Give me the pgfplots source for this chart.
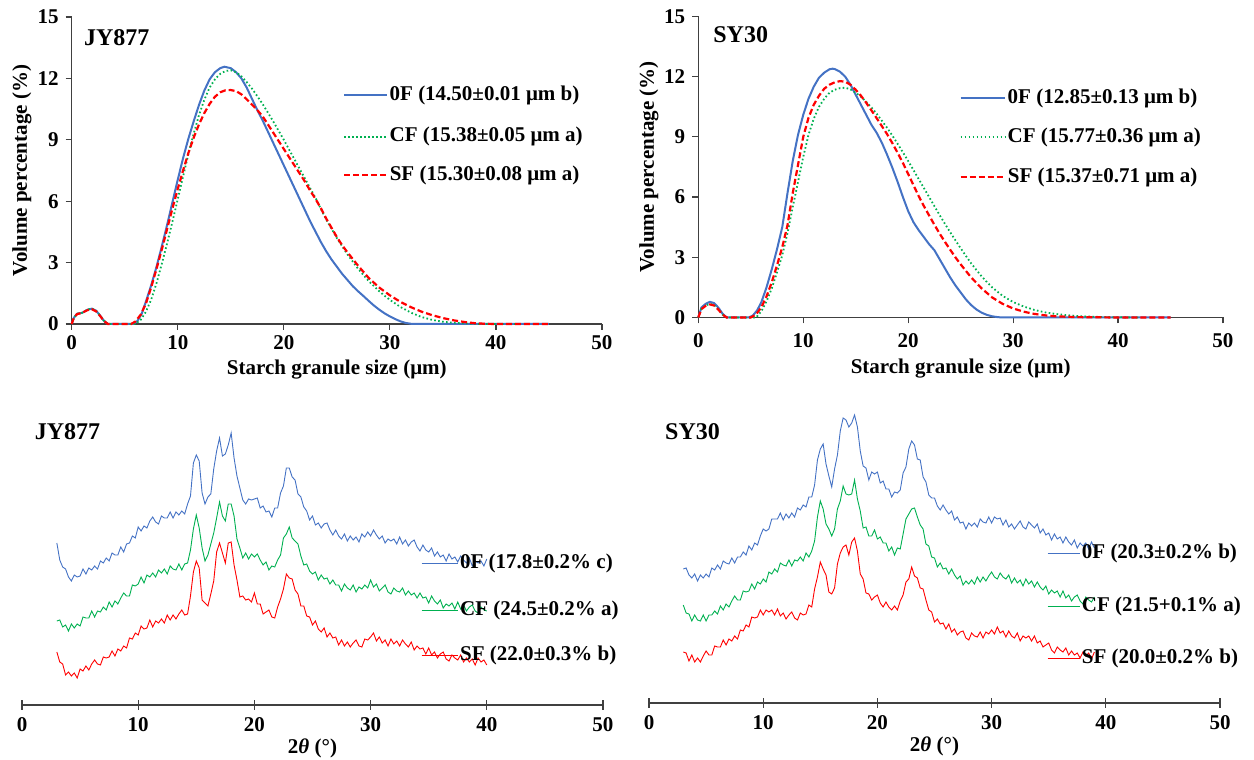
\documentclass[border=0pt]{standalone}
\usepackage{fontspec}
\setmainfont{Liberation Serif}
\usepackage{pgfplots}
\usepackage{pgfplotstable}
\pgfplotsset{compat=1.18}

\definecolor{ofblue}{HTML}{4472C4}
\definecolor{cfgreen}{HTML}{00B050}
\definecolor{sfred}{HTML}{FF0000}

% XRD patterns, heights in px above the axis line
\pgfplotstableread{
x b g r
3.00 162 84 53
3.25 145 85 43
3.50 138 78 41
3.75 136 80 30
4.00 128 74 33
4.25 124 81 29
4.50 130 77 32
4.75 128 81 27
5.00 129 79 36
5.25 136 88 34
5.50 131 87 39
5.75 137 87 35
6.00 135 94 41
6.25 139 88 45
6.50 136 94 41
6.75 144 93 40
7.00 142 98 48
7.25 147 95 47
7.50 144 103 48
7.75 152 98 54
8.00 150 104 49
8.25 150 101 56
8.50 158 107 54
8.75 153 112 59
9.00 161 109 57
9.25 162 109 67
9.50 169 120 66
9.75 167 119 72
10.00 178 121 70
10.25 174 128 79
10.50 179 122 76
10.75 177 130 77
11.00 184 128 85
11.25 188 132 78
11.50 183 128 84
11.75 181 135 82
12.00 189 132 86
12.25 187 136 82
12.50 187 131 90
12.75 193 139 85
13.00 187 136 90
13.25 193 135 86
13.50 190 141 91
13.75 194 135 95
14.00 191 141 90
14.25 201 142 91
14.50 209 155 109
14.75 242 176 133
15.00 250 190 144
15.25 244 177 137
15.50 212 157 105
15.75 201 144 102
16.00 208 150 99
16.25 211 161 111
16.50 236 172 124
16.75 254 187 153
17.00 267 203 162
17.25 249 189 152
17.50 251 184 142
17.75 260 201 162
18.00 272 201 163
18.25 247 189 140
18.50 229 166 125
18.75 217 157 108
19.00 205 147 109
19.25 201 152 105
19.50 206 146 106
19.75 205 151 103
20.00 206 148 112
20.25 207 151 101
20.50 197 145 101
20.75 199 140 91
21.00 193 143 93
21.25 194 135 95
21.50 188 139 88
21.75 197 138 87
22.00 197 145 98
22.25 212 150 106
22.50 219 167 116
22.75 237 171 131
23.00 237 178 127
23.25 228 167 126
23.50 225 164 115
23.75 211 161 111
24.00 208 149 99
24.25 198 140 99
24.50 194 141 89
24.75 185 134 88
25.00 189 131 80
25.25 180 133 84
25.50 182 125 76
25.75 177 130 73
26.00 181 126 77
26.25 182 127 68
26.50 175 121 72
26.75 170 125 67
27.00 175 120 68
27.25 169 120 60
27.50 166 114 65
27.75 171 121 59
28.00 164 117 63
28.25 169 115 58
28.50 165 120 62
28.75 168 113 65
29.00 163 118 59
29.25 171 116 58
29.50 168 120 66
29.75 173 117 65
30.00 169 125 68
30.25 175 118 72
30.50 170 121 64
30.75 166 114 68
31.00 169 117 62
31.25 162 120 65
31.50 166 113 59
31.75 164 111 66
32.00 166 117 61
32.25 161 114 64
32.50 168 113 59
32.75 161 117 65
33.00 165 110 61
33.25 159 114 58
33.50 163 110 63
33.75 165 112 55
34.00 158 107 59
34.25 154 112 56
34.50 160 107 57
34.75 155 108 51
35.00 153 102 57
35.25 157 109 50
35.50 149 104 53
35.75 153 101 47
36.00 148 105 51
36.25 150 97 53
36.50 144 101 46
36.75 151 99 44
37.00 146 102 50
37.25 148 96 47
37.50 143 103 45
37.75 149 96 50
38.00 145 100 43
38.25 142 94 47
38.50 147 98 43
38.75 139 100 46
39.00 144 94 40
39.25 142 92 47
39.50 144 98 43
39.75 139 95 45
40.00 146 94 40
}\xrdjy

\pgfplotstableread{
x b g r
3.00 134 98 51
3.25 135 90 50
3.50 128 89 42
3.75 125 82 48
4.00 129 88 41
4.25 122 83 45
4.50 128 82 41
4.75 125 88 47
5.00 129 82 52
5.25 126 88 48
5.50 135 88 48
5.75 133 92 57
6.00 138 89 56
6.25 134 97 56
6.50 142 93 63
6.75 140 99 58
7.00 139 96 64
7.25 145 102 62
7.50 140 107 67
7.75 146 103 64
8.00 146 103 73
8.25 151 112 72
8.50 148 111 78
8.75 157 112 76
9.00 153 119 86
9.25 160 114 85
9.50 158 121 86
9.75 167 119 93
10.00 174 124 88
10.25 172 121 93
10.50 174 131 91
10.75 184 129 93
11.00 184 134 88
11.25 184 131 94
11.50 190 140 87
11.75 183 138 90
12.00 189 137 84
12.25 185 143 88
12.50 190 137 91
12.75 186 143 85
13.00 195 142 83
13.25 193 146 90
13.50 198 142 88
13.75 196 150 89
14.00 206 146 98
14.25 206 152 96
14.50 218 162 114
14.75 243 186 126
15.00 254 202 141
15.25 259 194 134
15.50 239 179 128
15.75 227 174 111
16.00 216 167 109
16.25 234 174 115
16.50 248 194 139
16.75 272 202 150
17.00 285 217 156
17.25 283 209 158
17.50 276 208 148
17.75 280 209 161
18.00 288 223 165
18.25 276 204 152
18.50 252 192 129
18.75 237 175 124
19.00 235 176 110
19.25 223 167 109
19.50 231 167 103
19.75 229 173 106
20.00 231 164 108
20.25 220 166 100
20.50 222 160 96
20.75 214 160 101
21.00 214 152 96
21.25 206 156 93
21.50 211 148 97
21.75 210 155 93
22.00 213 154 102
22.25 230 169 108
22.50 236 184 121
22.75 254 189 124
23.00 262 194 136
23.25 258 195 127
23.50 244 186 125
23.75 243 178 115
24.00 226 174 114
24.25 221 159 103
24.50 208 157 93
24.75 205 146 91
25.00 205 145 81
25.25 197 136 84
25.50 193 140 79
25.75 198 134 80
26.00 193 135 74
26.25 189 129 79
26.50 192 134 71
26.75 183 128 74
27.00 186 124 68
27.25 180 127 71
27.50 181 118 72
27.75 174 122 65
28.00 180 119 63
28.25 177 123 70
28.50 180 119 67
28.75 176 126 66
29.00 184 121 71
29.25 181 126 65
29.50 180 122 71
29.75 186 127 69
30.00 180 131 73
30.25 186 126 69
30.50 184 124 76
30.75 185 130 70
31.00 178 126 72
31.25 183 124 66
31.50 176 128 72
31.75 179 120 67
32.00 174 125 65
32.25 178 120 70
32.50 182 123 62
32.75 176 117 67
33.00 174 124 65
33.25 181 119 67
33.50 178 122 62
33.75 175 116 67
34.00 179 121 60
34.25 170 116 62
34.50 174 113 56
34.75 168 117 58
35.00 170 109 60
35.25 163 113 53
35.50 169 110 50
35.75 164 112 56
36.00 166 106 53
36.25 160 112 51
36.50 166 105 55
36.75 161 108 48
37.00 158 102 52
37.25 163 106 48
37.50 155 108 50
37.75 160 102 45
38.00 157 99 51
38.25 160 106 47
38.50 154 103 50
38.75 161 101 44
39.00 155 106 51
}\xrdsy

\tikzset{
  psdblue/.style={ofblue, line width=1pt},
  psdgreen/.style={cfgreen, line width=0.9pt, dash pattern=on 0.8pt off 1.2pt},
  psdred/.style={sfred, line width=1.1pt, dash pattern=on 3pt off 1.5pt},
}

\pgfplotsset{
  psd/.style={
    scale only axis, anchor=south west,
    xmin=0, xmax=50, ymin=0, ymax=15,
    xtick={0,10,20,30,40,50}, ytick={0,3,6,9,12,15},
    axis lines=left, axis line style={-, line width=0.7pt, black!75},
    tick style={line width=0.6pt, black!75}, tick align=outside, major tick length=3pt,
    /pgf/number format/assume math mode=true,
    xlabel={Starch granule size (μm)}, ylabel={Volume percentage (\%)},
    ylabel style={at={(axis description cs:-0.094,0.5)}, anchor=center},
    clip=false,
  },
  xrd/.style={
    scale only axis, anchor=south west,
    xmin=0, xmax=50, ymin=0, ymax=290,
    xtick={0,10,20,30,40,50}, ytick=\empty,
    axis x line=bottom, axis y line=none,
    axis line style={-, line width=0.7pt, black!75},
    tick style={line width=0.6pt, black!75}, tick align=center, major tick length=5pt,
    /pgf/number format/assume math mode=true,
    xlabel={2\textit{θ} (°)},
    xlabel style={at={(axis description cs:0.5,-0.151)}, anchor=center},
    clip=false,
  },
}

\begin{document}
\begin{tikzpicture}[font=\bfseries\fontsize{10.5}{12.6}\selectfont]
\path[use as bounding box] (0,0) rectangle (627pt,380pt);

% ---- particle size, JY877
\begin{axis}[psd, at={(35.85pt,218pt)}, width=265.15pt, height=153.5pt,
  xticklabel style={yshift=1pt},
  xlabel style={at={(axis description cs:0.5,-0.147)}, anchor=center}]
\addplot[psdblue] coordinates {
(0,0) (0.2,0.3) (0.5,0.5) (1.0,0.55) (1.5,0.7) (1.9,0.75) (2.3,0.65) (2.7,0.4) (3.0,0.18) (3.4,0) (5.8,0)
(6.2,0.15) (6.6,0.5) (7.0,1.1) (7.5,1.9) (8.0,2.8) (8.5,3.8) (9.0,4.85) (9.5,5.95) (10.0,7.05) (10.5,8.1)
(11.0,9.05) (11.5,9.9) (12.0,10.7) (12.5,11.4) (13.0,11.95) (13.5,12.3) (14.0,12.5) (14.4,12.57) (15.0,12.5)
(15.5,12.3) (16.0,12.0) (16.5,11.55) (17.0,11.0) (17.5,10.45) (18.0,9.95) (18.5,9.4) (19.0,8.85) (19.5,8.3)
(20.0,7.75) (20.5,7.2) (21.0,6.65) (21.5,6.1) (22.0,5.55) (22.5,5.0) (23.0,4.5) (23.5,4.0) (24.0,3.55)
(24.5,3.15) (25.0,2.8) (25.5,2.45) (26.0,2.15) (26.5,1.85) (27.0,1.6) (27.5,1.37) (28.0,1.13) (28.5,0.9)
(29.0,0.7) (29.5,0.52) (30.0,0.37) (30.5,0.24) (31.0,0.13) (31.5,0.05) (32.0,0.01) (32.5,0) (45,0)};
\addplot[psdgreen] coordinates {
(0,0) (0.2,0.3) (0.5,0.5) (1.0,0.55) (1.5,0.7) (1.9,0.75) (2.3,0.65) (2.7,0.4) (3.0,0.18) (3.4,0) (6.0,0)
(6.5,0.2) (7.0,0.6) (7.5,1.2) (8.0,2.0) (8.5,2.95) (9.0,3.95) (9.5,5.0) (10.0,6.1) (10.5,7.2) (11.0,8.3)
(11.5,9.3) (12.0,10.2) (12.5,10.95) (13.0,11.55) (13.5,11.95) (14.0,12.22) (14.5,12.36) (15.0,12.4)
(15.5,12.3) (16.0,12.1) (16.5,11.82) (17.0,11.5) (17.5,11.13) (18.0,10.75) (18.5,10.33) (19.0,9.9)
(19.5,9.45) (20.0,9.0) (20.5,8.52) (21.0,8.05) (21.5,7.57) (22.0,7.1) (22.5,6.62) (23.0,6.15) (23.5,5.62)
(24.0,5.1) (24.5,4.65) (25.0,4.2) (25.5,3.8) (26.0,3.4) (26.5,3.05) (27.0,2.7) (27.5,2.4) (28.0,2.1)
(28.5,1.85) (29.0,1.6) (29.5,1.38) (30.0,1.18) (31.0,0.83) (32.0,0.55) (33.0,0.34) (34.0,0.2) (35.0,0.11)
(36.0,0.06) (37.0,0.03) (38.0,0.01) (39.0,0) (42.0,0)};
\addplot[psdred] coordinates {
(0,0) (0.2,0.3) (0.5,0.48) (1.0,0.55) (1.5,0.68) (1.9,0.72) (2.3,0.62) (2.7,0.38) (3.0,0.17) (3.4,0) (5.6,0)
(6.0,0.12) (6.5,0.45) (7.0,1.0) (7.5,1.8) (8.0,2.7) (8.5,3.65) (9.0,4.65) (9.5,5.65) (10.0,6.6) (10.5,7.5)
(11.0,8.35) (11.5,9.1) (12.0,9.75) (12.5,10.3) (13.0,10.75) (13.5,11.1) (14.0,11.32) (14.5,11.42) (15.0,11.43)
(15.5,11.38) (16.0,11.22) (16.5,10.98) (17.0,10.72) (17.5,10.45) (18.0,10.15) (18.5,9.75) (19.0,9.35)
(19.5,8.95) (20.0,8.55) (20.5,8.15) (21.0,7.75) (21.5,7.35) (22.0,6.95) (22.5,6.5) (23.0,6.1) (23.5,5.65)
(24.0,5.15) (24.5,4.7) (25.0,4.25) (25.5,3.85) (26.0,3.5) (27.0,2.85) (28.0,2.25) (29.0,1.78) (30.0,1.4)
(31.0,1.08) (32.0,0.82) (33.0,0.6) (34.0,0.43) (35.0,0.29) (36.0,0.18) (37.0,0.1) (38.0,0.04) (39.0,0.01)
(40.0,0) (45.0,0)};
\node[anchor=west, font=\bfseries\fontsize{12}{14}\selectfont] at (axis cs:0.5,14.0) {JY877};
\draw[psdblue] (axis cs:25.7,11.19) -- (axis cs:29.7,11.19) node[anchor=west, inner sep=1pt, black] {0F (14.50±0.01 μm b)};
\draw[psdgreen] (axis cs:25.7,9.14) -- (axis cs:29.7,9.14) node[anchor=west, inner sep=1pt, black] {CF (15.38±0.05 μm a)};
\draw[psdred] (axis cs:25.7,7.28) -- (axis cs:29.7,7.28) node[anchor=west, inner sep=1pt, black] {SF (15.30±0.08 μm a)};
\end{axis}

% ---- particle size, SY30
\begin{axis}[psd, at={(349.15pt,221.25pt)}, width=262.35pt, height=150.5pt,
  xticklabel style={yshift=-1.5pt},
  xlabel style={at={(axis description cs:0.5,-0.170)}, anchor=center}]
\addplot[psdblue] coordinates {
(0,0) (0.3,0.5) (0.7,0.68) (1.1,0.78) (1.5,0.72) (1.9,0.5) (2.3,0.2) (2.7,0) (4.8,0) (5.2,0.1) (5.6,0.35)
(6.0,0.75) (6.5,1.5) (7.0,2.4) (7.5,3.4) (8.0,4.5) (8.5,6.2) (9.0,7.8) (9.5,9.1) (10.0,10.1) (10.5,10.9)
(11.0,11.5) (11.5,11.95) (12.0,12.2) (12.5,12.37) (12.8,12.4) (13.0,12.38) (13.5,12.25) (14.0,12.0)
(14.5,11.6) (15.0,11.1) (15.5,10.6) (16.0,10.1) (16.5,9.6) (17.0,9.2) (17.5,8.7) (18.0,8.1) (18.5,7.45)
(19.0,6.75) (19.5,6.0) (20.0,5.3) (20.5,4.75) (21.0,4.35) (21.5,4.0) (22.0,3.65) (22.5,3.35) (23.0,2.9)
(23.5,2.45) (24.0,2.0) (24.5,1.6) (25.0,1.25) (25.5,0.9) (26.0,0.62) (26.5,0.4) (27.0,0.24) (27.5,0.13)
(28.0,0.06) (28.5,0.02) (29.0,0) (45,0)};
\addplot[psdgreen] coordinates {
(0,0) (0.3,0.45) (0.7,0.6) (1.1,0.68) (1.5,0.62) (1.9,0.42) (2.3,0.15) (2.7,0) (5.5,0) (6.0,0.3) (6.5,0.8)
(7.0,1.45) (7.5,2.25) (8.0,3.1) (8.5,4.2) (9.0,5.5) (9.5,6.75) (10.0,8.0) (10.5,9.1) (11.0,9.9) (11.5,10.5)
(12.0,10.9) (12.5,11.2) (13.0,11.35) (13.5,11.43) (14.0,11.45) (14.5,11.37) (15.0,11.2) (15.5,11.0)
(16.0,10.75) (16.5,10.47) (17.0,10.15) (17.5,9.8) (18.0,9.45) (18.5,9.06) (19.0,8.65) (19.5,8.23) (20.0,7.8)
(20.5,7.35) (21.0,6.9) (21.5,6.45) (22.0,6.0) (22.5,5.55) (23.0,5.1) (23.5,4.67) (24.0,4.25) (24.5,3.85)
(25.0,3.45) (25.5,3.07) (26.0,2.7) (26.5,2.37) (27.0,2.05) (27.5,1.77) (28.0,1.5) (29.0,1.08) (30.0,0.77)
(31.0,0.55) (32.0,0.38) (33.0,0.26) (34.0,0.18) (35.0,0.12) (36.0,0.08) (37.0,0.05) (38.0,0.03) (40.0,0.01)
(42.0,0)};
\addplot[psdred] coordinates {
(0,0) (0.3,0.42) (0.7,0.58) (1.1,0.65) (1.5,0.6) (1.9,0.4) (2.3,0.15) (2.7,0) (5.0,0) (5.5,0.15) (6.0,0.5)
(6.5,1.05) (7.0,1.75) (7.5,2.6) (8.0,3.5) (8.5,4.6) (9.0,6.2) (9.5,7.6) (10.0,9.0) (10.5,9.95) (11.0,10.6)
(11.5,11.05) (12.0,11.4) (12.5,11.6) (13.0,11.72) (13.5,11.78) (14.0,11.75) (14.5,11.6) (15.0,11.35)
(15.5,11.05) (16.0,10.7) (16.5,10.32) (17.0,9.93) (17.5,9.53) (18.0,9.13) (18.5,8.68) (19.0,8.2) (19.5,7.7)
(20.0,7.15) (20.5,6.6) (21.0,6.05) (21.5,5.55) (22.0,5.08) (22.5,4.62) (23.0,4.18) (23.5,3.77) (24.0,3.38)
(24.5,3.0) (25.0,2.65) (25.5,2.32) (26.0,2.0) (27.0,1.45) (28.0,1.0) (29.0,0.68) (30.0,0.45) (31.0,0.29)
(32.0,0.18) (33.0,0.11) (34.0,0.06) (35.0,0.04) (36.0,0.02) (38.0,0.01) (40.0,0) (45.0,0)};
\node[anchor=west, font=\bfseries\fontsize{12}{14}\selectfont] at (axis cs:0.76,14.1) {SY30};
\draw[psdblue] (axis cs:25.0,10.94) -- (axis cs:29.2,10.94) node[anchor=west, inner sep=1pt, black] {0F (12.85±0.13 μm b)};
\draw[psdgreen] (axis cs:25.0,8.99) -- (axis cs:29.2,8.99) node[anchor=west, inner sep=1pt, black] {CF (15.77±0.36 μm a)};
\draw[psdred] (axis cs:25.0,7.0) -- (axis cs:29.2,7.0) node[anchor=west, inner sep=1pt, black] {SF (15.37±0.71 μm a)};
\end{axis}

% ---- XRD, JY877
\begin{axis}[xrd, at={(11pt,27.5pt)}, width=290.5pt, height=145pt]
\addplot[ofblue, line width=0.45pt] table[x=x, y=b] {\xrdjy};
\addplot[cfgreen, line width=0.45pt] table[x=x, y=g] {\xrdjy};
\addplot[sfred, line width=0.45pt] table[x=x, y=r] {\xrdjy};
\node[anchor=west, font=\bfseries\fontsize{12}{14}\selectfont] at (axis cs:0.5,273) {JY877};
\draw[ofblue, line width=0.4pt] (axis cs:34.4,142) -- (axis cs:37.5,142) node[anchor=west, inner sep=1pt, black] {0F (17.8±0.2\% c)};
\draw[cfgreen, line width=0.4pt] (axis cs:34.4,95) -- (axis cs:37.5,95) node[anchor=west, inner sep=1pt, black] {CF (24.5±0.2\% a)};
\draw[sfred, line width=0.4pt] (axis cs:34.4,50) -- (axis cs:37.5,50) node[anchor=west, inner sep=1pt, black] {SF (22.0±0.3\% b)};
\end{axis}

% ---- XRD, SY30
\begin{axis}[xrd, at={(324.5pt,28.5pt)}, width=285.5pt, height=145pt]
\addplot[ofblue, line width=0.45pt] table[x=x, y=b] {\xrdsy};
\addplot[cfgreen, line width=0.45pt] table[x=x, y=g] {\xrdsy};
\addplot[sfred, line width=0.45pt] table[x=x, y=r] {\xrdsy};
\node[anchor=west, font=\bfseries\fontsize{12}{14}\selectfont] at (axis cs:0.8,271) {SY30};
\draw[ofblue, line width=0.4pt] (axis cs:34.9,150) -- (axis cs:37.7,150) node[anchor=west, inner sep=1pt, black] {0F (20.3±0.2\% b)};
\draw[cfgreen, line width=0.4pt] (axis cs:34.9,97) -- (axis cs:37.7,97) node[anchor=west, inner sep=1pt, black] {CF (21.5+0.1\% a)};
\draw[sfred, line width=0.4pt] (axis cs:34.9,45) -- (axis cs:37.7,45) node[anchor=west, inner sep=1pt, black] {SF (20.0±0.2\% b)};
\end{axis}
\end{tikzpicture}
\end{document}
